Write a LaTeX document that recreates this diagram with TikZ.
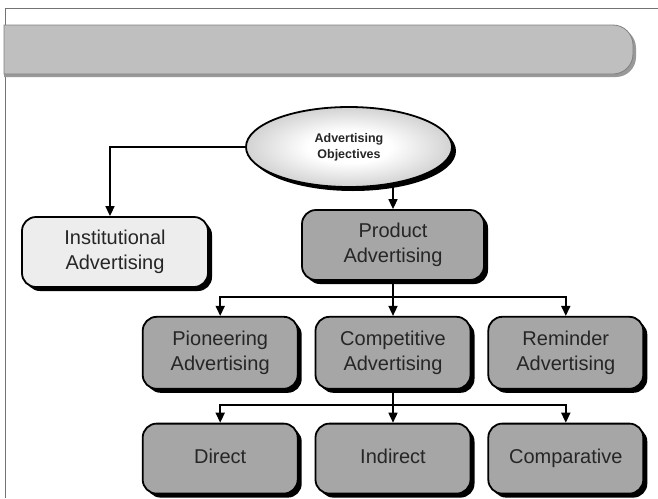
\documentclass[tikz,border=0pt]{standalone}
\usepackage{fontspec}
\setmainfont{Liberation Sans}
\usetikzlibrary{arrows.meta,positioning,shapes.geometric,shadows,backgrounds}
\pgfdeclareradialshading{objshade}{\pgfpoint{0bp}{0bp}}{color(0bp)=(white); color(10bp)=(white); color(46bp)=(black!42); color(50bp)=(black!42)}

\begin{document}
\begin{tikzpicture}[x=1pt,y=1pt,
  box/.style={draw,line width=1.8pt,rounded corners=14pt,fill=black!35,text=black!85,
    minimum width=155pt,minimum height=70pt,align=center,font=\fontsize{20}{25}\selectfont,
    drop shadow={shadow xshift=4pt,shadow yshift=-4pt,fill=black,opacity=1}},
  onebox/.style={box,text height=15pt,text depth=4.5pt},
  arr/.style={line width=1.6pt,-{Triangle[width=9pt,length=10pt]}},
  bus/.style={line width=1.6pt,line cap=rect},
  node distance=35pt and 16pt]
\useasboundingbox (0,0) rectangle (658,-498);
% frame and title bar
\draw[black!55,line width=1pt] (658,-8) -- (5,-8) -- (5,-498);
\fill[black!40] (4,-28) -- (616,-28) arc[start angle=90,end angle=0,radius=20] -- (636,-57) arc[start angle=0,end angle=-90,radius=20] -- (4,-77) -- cycle;
\draw[black!50,fill=black!25,line width=0.8pt] (4,-25) -- (613,-25) arc[start angle=90,end angle=0,radius=20] -- (633,-54) arc[start angle=0,end angle=-90,radius=20] -- (4,-74) -- cycle;
% objectives
\node[ellipse,draw,line width=1.8pt,minimum width=206pt,minimum height=80pt,shading=objshade,
  drop shadow={shadow xshift=4pt,shadow yshift=-4pt,fill=black,opacity=1},
  align=center,text=black!85,font=\bfseries\fontsize{12.5}{16}\selectfont] (obj) at (349,-147) {Advertising\\Objectives};
\node[box,fill=black!7,minimum width=186pt] (inst) at (115,-252) {Institutional\\Advertising};
\node[box,minimum width=182pt] (prod) at (393,-245) {Product\\Advertising};
\node[box,minimum height=72pt,below=35pt of prod] (comp) {Competitive\\Advertising};
\node[box,minimum height=72pt,left=of comp] (pion) {Pioneering\\Advertising};
\node[box,minimum height=72pt,right=of comp] (remi) {Reminder\\Advertising};
\node[onebox,below=33pt of comp] (indir) {Indirect};
\node[onebox,left=of indir] (dir) {Direct};
\node[onebox,right=of indir] (compar) {Comparative};
% connectors
\begin{scope}[on background layer]
\draw[arr] (obj.center -| prod.north) -- (prod.north);
\end{scope}
\draw[arr] (obj.west) -| ([xshift=-5pt]inst.north);
\draw[bus] (prod.south) -- ++(0,-16) coordinate (bus1);
\draw[bus] (bus1 -| pion.north) -- (bus1 -| remi.north);
\foreach \n in {pion,comp,remi} \draw[arr] (bus1 -| \n.north) -- (\n.north);
\draw[bus] (comp.south) -- ++(0,-15) coordinate (bus2);
\draw[bus] (bus2 -| dir.north) -- (bus2 -| compar.north);
\foreach \n in {dir,indir,compar} \draw[arr] (bus2 -| \n.north) -- (\n.north);
\end{tikzpicture}
\end{document}
